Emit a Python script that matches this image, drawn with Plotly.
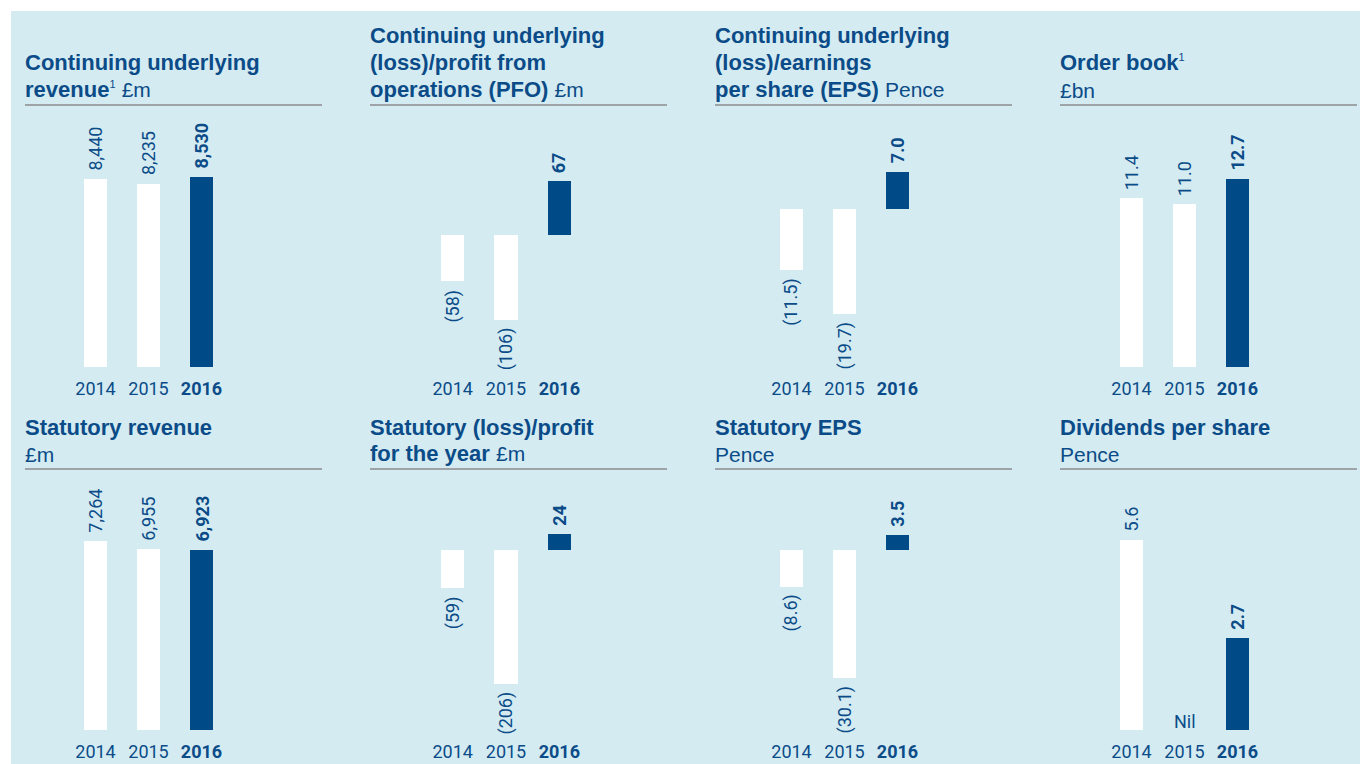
import plotly.graph_objects as go

# ---- data -------------------------------------------------------------
years = ["2014", "2015", "2016"]

cont_revenue = [8440, 8235, 8530]        # £m
cont_pfo = [-58, -106, 67]                # £m
cont_eps = [-11.5, -19.7, 7.0]            # pence
order_book = [11.4, 11.0, 12.7]           # £bn
stat_revenue = [7264, 6955, 6923]         # £m
stat_profit = [-59, -206, 24]             # £m
stat_eps = [-8.6, -30.1, 3.5]             # pence
dividends = [5.6, 0, 2.7]                 # pence

SUP = "<sup><span style='font-size:11px'>1</span></sup>"


def unit(u):
    return f"<span style='font-size:21px'>{u}</span>"


# each title is a list of lines, drawn top to bottom
titles = [
    ["<b>Continuing underlying</b>", f"<b>revenue</b>{SUP} {unit('£m')}"],
    ["<b>Continuing underlying</b>", "<b>(loss)/profit from</b>",
     f"<b>operations (PFO)</b> {unit('£m')}"],
    ["<b>Continuing underlying</b>", "<b>(loss)/earnings</b>",
     f"<b>per share (EPS)</b> {unit('Pence')}"],
    [f"<b>Order book</b>{SUP}", unit("£bn")],
    ["<b>Statutory revenue</b>", unit("£m")],
    ["<b>Statutory (loss)/profit</b>", f"<b>for the year</b> {unit('£m')}"],
    ["<b>Statutory EPS</b>", unit("Pence")],
    ["<b>Dividends per share</b>", unit("Pence")],
]
series = [cont_revenue, cont_pfo, cont_eps, order_book,
          stat_revenue, stat_profit, stat_eps, dividends]
decimals = [0, 0, 1, 1, 0, 0, 1, 1]

# ---- styling ----------------------------------------------------------
W, H = 1360, 764
BG = "#d4ebf2"
DARK = "#004b87"
TXT = "#0b4c88"
RULE = "#9ea3a8"
FONT = "Roboto, 'Liberation Sans', sans-serif"
TITLE_FONT = "'Liberation Sans', Arial, sans-serif"

col_left = [25, 370, 715, 1060]          # title / rule left edge (px)
rule_w = 297
plot_x = [(69, 228), (426, 586), (765, 924), (1105, 1264)]
row_plot_y = [(112, 367), (472, 730)]    # plot area top/bottom (px)
row_rule_y = [105, 469]
row_last_baseline = [97, 462]            # baseline of a title's last line
line_step = 26.7

# per panel: pixel row of the zero line and pixels per unit
scales = [(367, 0.02227), (235, 0.80), (209, 5.33), (367, 14.8),
          (730, 0.0260), (549.5, 0.653), (550, 4.25), (730, 34.0)]


def px_x(p):
    return p / W


def px_y(p):
    return 1 - p / H


def fmt(v, d):
    if v == 0:
        return "Nil"
    s = f"{abs(v):,.{d}f}"
    return f"({s})" if v < 0 else s


fig = go.Figure()

# light-blue panel background
fig.add_shape(type="rect", xref="paper", yref="paper",
              x0=px_x(11), x1=1, y0=0, y1=px_y(11),
              fillcolor=BG, line_width=0, layer="below")

for i, vals in enumerate(series):
    row, col = divmod(i, 4)
    n = i + 1
    xa = "x" if n == 1 else f"x{n}"
    ya = "y" if n == 1 else f"y{n}"
    colors = ["#ffffff", "#ffffff", DARK]

    fig.add_trace(go.Bar(
        x=[0, 1, 2], y=vals, width=0.434,
        marker=dict(color=colors, line_width=0),
        xaxis=xa, yaxis=ya, showlegend=False, hoverinfo="skip",
    ))

    zero_px, ppu = scales[i]
    top_px, bot_px = row_plot_y[row]
    yr = [(zero_px - bot_px) / ppu, (zero_px - top_px) / ppu]
    x0, x1 = plot_x[col]

    fig.layout[f"xaxis{'' if n == 1 else n}"] = dict(
        domain=[px_x(x0), px_x(x1)], range=[-0.5, 2.5], anchor=ya,
        tickmode="array", tickvals=[0, 1, 2],
        ticktext=[years[0], years[1], f"<b>{years[2]}</b>"],
        tickfont=dict(size=18, color=TXT, family=FONT),
        ticks="", showgrid=False, zeroline=False, showline=False,
        ticklabelstandoff=9, fixedrange=True,
    )
    fig.layout[f"yaxis{'' if n == 1 else n}"] = dict(
        domain=[px_y(bot_px), px_y(top_px)], range=yr, anchor=xa,
        showticklabels=False, showgrid=False, zeroline=False,
        showline=False, fixedrange=True,
    )

    # value labels
    for k, v in enumerate(vals):
        label = fmt(v, decimals[i])
        if k == 2:
            label = f"<b>{label}</b>"
        if v == 0:
            fig.add_annotation(x=k, y=0, xref=xa, yref=ya, text=label,
                               showarrow=False, yanchor="bottom",
                               yshift=-4, font=dict(size=18, color=TXT,
                                                    family=FONT))
        else:
            fig.add_annotation(
                x=k, y=v, xref=xa, yref=ya, text=label, showarrow=False,
                textangle=-90, xanchor="center",
                yanchor="bottom" if v > 0 else "top",
                yshift=6 if v > 0 else -6,
                font=dict(size=18, color=TXT, family=FONT))

    # title lines and rule
    lines = titles[i]
    for j, line in enumerate(lines):
        baseline = row_last_baseline[row] - (len(lines) - 1 - j) * line_step
        fig.add_annotation(
            xref="paper", yref="paper", x=px_x(col_left[col] - 2),
            y=px_y(baseline + 6.5), xanchor="left", yanchor="bottom",
            text=line, align="left", showarrow=False,
            font=dict(size=22, color=TXT, family=TITLE_FONT))
    fig.add_shape(type="line", xref="paper", yref="paper",
                  x0=px_x(col_left[col]), x1=px_x(col_left[col] + rule_w),
                  y0=px_y(row_rule_y[row]), y1=px_y(row_rule_y[row]),
                  line=dict(color=RULE, width=2))

fig.update_layout(
    width=W, height=H, margin=dict(l=0, r=0, t=0, b=0),
    paper_bgcolor="#ffffff", plot_bgcolor="rgba(0,0,0,0)",
    font=dict(family=FONT, color=TXT), bargap=0,
)

fig.write_html("out.html", include_plotlyjs=True, full_html=True,
               config={"displayModeBar": False})
